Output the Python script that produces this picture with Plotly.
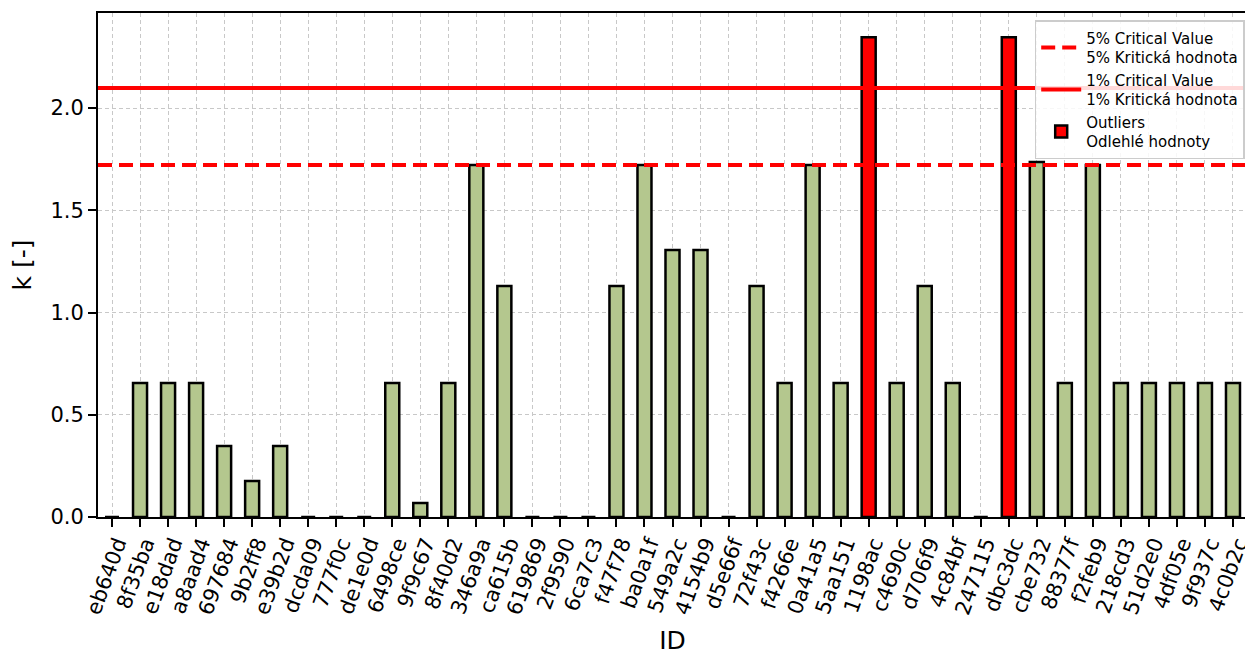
import plotly.graph_objects as go

ids = ["eb640d", "8f35ba", "e18dad", "a8aad4", "697684", "9b2ff8", "e39b2d", "dcda09",
       "777f0c", "de1e0d", "6498ce", "9f9c67", "8f40d2", "346a9a", "ca615b", "619869",
       "2f9590", "6ca7c3", "f47f78", "ba0a1f", "549a2c", "4154b9", "d5e66f", "72f43c",
       "f4266e", "0a41a5", "5aa151", "1198ac", "c4690c", "d706f9", "4c84bf", "247115",
       "dbc3dc", "cbe732", "88377f", "f2feb9", "218cd3", "51d2e0", "4df05e", "9f937c",
       "4c0b2c"]
k = [0.0, 0.655, 0.655, 0.655, 0.347, 0.176, 0.347, 0.0,
     0.0, 0.0, 0.655, 0.068, 0.655, 1.721, 1.13, 0.0,
     0.0, 0.0, 1.13, 1.721, 1.306, 1.306, 0.0, 1.13,
     0.655, 1.721, 0.655, 2.347, 0.655, 1.13, 0.655, 0.0,
     2.347, 1.736, 0.655, 1.721, 0.655, 0.655, 0.655, 0.655,
     0.655]
crit_5 = 1.721
crit_1 = 2.098

# split into normal values and outliers (above the 1% critical value)
normal = [v if v <= crit_1 else None for v in k]
outliers = [v if v > crit_1 else None for v in k]

fig = go.Figure()
fig.add_trace(go.Bar(x=ids, y=normal, width=0.5,
                     marker=dict(color="#b4c78e", line=dict(color="black", width=2.5)),
                     showlegend=False))

fig.add_shape(type="line", xref="x domain", yref="y", x0=0, x1=1, y0=crit_5, y1=crit_5,
              line=dict(color="red", width=4, dash="14px,7px"), showlegend=True, legendrank=1,
              name="5% Critical Value<br>5% Kritická hodnota")
fig.add_shape(type="line", xref="x domain", yref="y", x0=0, x1=1, y0=crit_1, y1=crit_1,
              line=dict(color="red", width=4), showlegend=True, legendrank=2,
              name="1% Critical Value<br>1% Kritická hodnota")

fig.add_trace(go.Bar(x=ids, y=outliers, width=0.5, legendrank=3,
                     marker=dict(color="red", line=dict(color="black", width=2.5)),
                     name="Outliers<br>Odlehlé hodnoty"))

# page body has an 8px margin, so the figure is 8px smaller than the window
fig.update_layout(
    width=1245, height=647,
    paper_bgcolor="white", plot_bgcolor="white",
    barmode="overlay",
    margin=dict(l=90, r=6, t=5, b=138),
    font=dict(family="DejaVu Sans", size=21, color="black"),
    legend=dict(x=0.998, y=0.986, xanchor="right", yanchor="top",
                bgcolor="rgba(255,255,255,0.85)", bordercolor="#cccccc", borderwidth=1.5,
                font=dict(family="DejaVu Sans", size=15), tracegroupgap=4, itemwidth=40),
)
fig.update_xaxes(type="category", range=[-0.5, len(ids) - 0.5], tickangle=-70,
                 showline=True, linecolor="black", linewidth=2, mirror=True,
                 ticks="outside", ticklen=8, tickwidth=2, tickcolor="black",
                 showgrid=True, gridcolor="#c8c8c8", griddash="4px,3px", gridwidth=1,
                 title=dict(text="ID", standoff=20), ticklabelshift=5, ticklabelstandoff=-4,
                 automargin=False, tickfont=dict(size=21))
fig.update_yaxes(range=[0, 2.465], tickvals=[0, 0.5, 1.0, 1.5, 2.0],
                 ticktext=["0.0", "0.5", "1.0", "1.5", "2.0"],
                 showline=True, linecolor="black", linewidth=2, mirror=True,
                 ticks="outside", ticklen=8, tickwidth=2, tickcolor="black",
                 showgrid=True, gridcolor="#c8c8c8", griddash="4px,3px", gridwidth=1,
                 zeroline=False, title=dict(text="k [-]", standoff=14),
                 automargin=False, tickfont=dict(size=21))

fig.write_html("out.html")
